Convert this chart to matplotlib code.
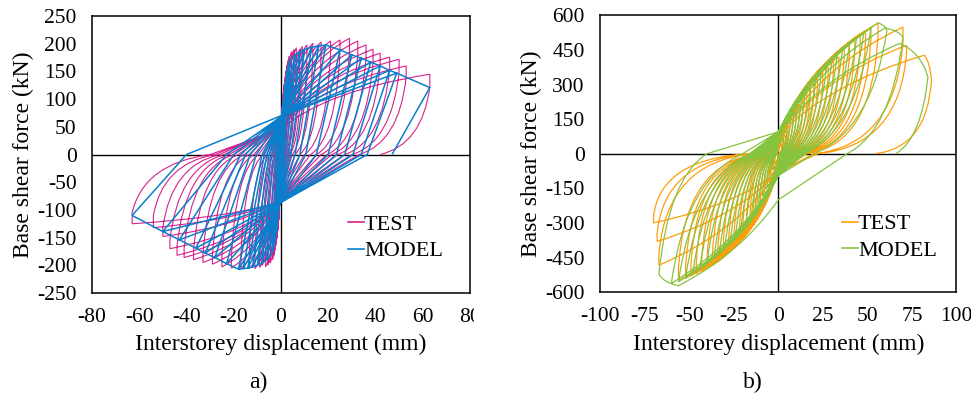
import matplotlib
matplotlib.use('Agg')
import matplotlib.pyplot as plt
from matplotlib.path import Path
from matplotlib.patches import PathPatch, Rectangle
from matplotlib.lines import Line2D

plt.rcParams['font.family'] = ['Liberation Serif', 'DejaVu Serif']
plt.rcParams['axes.unicode_minus'] = False

# every cycle = negative half then positive half
# dn/fn peak, dnd/fnd point after the peak, xa zero-force crossing on the way back,
# y0p force at zero displacement, same for the positive side (xb, y0n)

#%% panel a) TEST
a_test_y0n = [-20, -35, -40, -45, -48, -50, -52, -55, -58, -60, -62, -63, -65, -66, -68, -70, -72, -74, -75, -76, -78, -80, -80, -82, -84]
a_test_dn = [-1.0, -1.5, -2.0, -2.5, -3.0, -3.5, -4.5, -5.5, -6.5, -8.0, -9.0, -11.0, -13.5, -17.0, -21.0, -25.0, -29.0, -33.0, -37.0, -41.0, -44.0, -47.0, -50.0, -54.0, -63.0]
a_test_fn = [-110, -135, -155, -170, -182, -190, -196, -200, -203, -200, -204, -206, -206, -205, -205, -203, -198, -195, -190, -186, -182, -170, -148, -132, -125]
a_test_fnd = [-100, -123, -141, -155, -166, -174, -180, -184, -187, -184, -188, -190, -190, -189, -189, -187, -182, -179, -174, -170, -166, -155, -132, -110, -105]
a_test_xa = [-0.3, -0.45, -0.6, -0.8, -1.0, -1.2, -1.6, -2.0, -2.5, -3.2, -3.8, -4.8, -6.0, -7.5, -9.5, -11.5, -13.5, -15.5, -18.0, -20.0, -22.0, -24.0, -26.0, -28.0, -30.0]
a_test_y0p = [30, 35, 38, 40, 42, 44, 46, 48, 50, 50, 51, 52, 53, 54, 55, 55, 55, 54, 54, 53, 52, 51, 50, 48, 46]
a_test_dp = [1.0, 1.5, 2.0, 2.5, 3.0, 3.5, 4.5, 5.5, 6.5, 8.0, 9.0, 11.0, 13.5, 17.0, 21.0, 25.0, 29.0, 32.5, 36.0, 39.0, 42.0, 46.0, 50.0, 53.0, 63.0]
a_test_fp = [95, 120, 140, 155, 168, 178, 186, 190, 193, 190, 195, 198, 201, 203, 205, 207, 210, 205, 198, 190, 183, 176, 172, 160, 145]
a_test_fpd = [85, 108, 126, 140, 152, 162, 170, 172, 175, 172, 176, 178, 180, 182, 184, 186, 188, 183, 176, 168, 162, 155, 150, 140, 122]
a_test_xb = [0.3, 0.45, 0.6, 0.8, 1.0, 1.2, 1.6, 2.0, 2.5, 3.2, 3.8, 4.8, 6.0, 8.0, 10.0, 12.5, 15.0, 17.0, 19.5, 21.5, 24.0, 27.0, 30.0, 33.0, 42.0]

#%% panel a) MODEL
a_mod_y0n = [-20, -40, -55, -65, -70, -75, -78, -80, -82, -84, -85, -86, -86, -86, -86, -86, -86, -86]
a_mod_dn = [-1, -2, -3, -4, -6, -8, -10, -12, -14, -16, -18, -23, -28, -32, -36, -43, -50, -63]
a_mod_fn = [-100, -140, -165, -180, -190, -196, -200, -203, -205, -206, -207, -197, -186, -178, -169, -154, -139, -110]
a_mod_xa = [-0.2, -0.5, -0.9, -1.3, -2, -3, -4, -5, -6, -7, -8, -10.5, -13, -15, -17, -20, -23, -40]
a_mod_y0p = [40, 50, 55, 58, 60, 62, 63, 64, 65, 65, 66, 66, 67, 67, 68, 68, 68, 70]
a_mod_dp = [1, 2, 3, 4, 6, 8, 10, 13, 16, 19, 25, 30, 34, 38, 42, 46, 49, 63]
a_mod_fp = [90, 130, 160, 172, 180, 186, 190, 194, 196, 198, 189, 180, 174, 167, 160, 152, 147, 121]
a_mod_xb = [0.2, 0.5, 0.9, 1.3, 2.2, 3.2, 4.2, 6, 8, 10.5, 15, 20, 23.5, 27, 30.5, 34, 36.5, 47]

#%% panel b) TEST
b_test_y0n = [-10, -20, -25, -30, -35, -40, -45, -50, -55, -60, -62, -65, -68, -70, -72, -74, -76, -78, -80, -80, -80, -80, -80, -80, -80, -80, -80]
b_test_dn = [-2, -3, -4, -5, -6, -8, -10, -12, -14, -16, -18, -20, -22, -25, -28, -31, -34, -37, -40, -43, -46, -49, -52, -56, -67, -68, -70]
b_test_fn = [-45, -70, -95, -120, -145, -190, -225, -260, -290, -320, -345, -365, -385, -410, -430, -450, -470, -485, -500, -510, -520, -530, -540, -550, -483, -380, -300]
b_test_fnd = [-40, -62, -85, -108, -130, -172, -205, -238, -265, -292, -315, -335, -353, -375, -395, -412, -430, -445, -458, -468, -475, -485, -495, -500, -440, -345, -270]
b_test_xa = [-0.5, -0.7, -0.9, -1.1, -1.3, -1.6, -2, -2.4, -2.8, -3.2, -3.6, -4, -4.4, -5, -5.6, -6.2, -6.8, -7.4, -8, -8.6, -9.2, -9.8, -10.4, -11, -14, -15, -16]
b_test_y0p = [15, 20, 25, 30, 35, 40, 45, 50, 55, 60, 62, 65, 68, 70, 72, 74, 76, 78, 80, 80, 80, 80, 80, 80, 80, 80, 80]
b_test_dp = [2, 3, 4, 5, 6, 8, 10, 12, 14, 16, 18, 20, 22, 25, 28, 31, 34, 37, 40, 43, 46, 49, 52, 56, 70, 72, 82]
b_test_fp = [40, 60, 80, 100, 120, 155, 185, 215, 240, 265, 285, 305, 325, 350, 375, 400, 420, 460, 480, 500, 520, 535, 548, 567, 549, 470, 427]
b_test_dpd = [2, 3, 4, 5, 6, 8, 10, 12, 14, 16, 18, 20, 22, 25, 28, 31, 34, 37, 40, 43, 46, 49, 52, 56, 70, 72, 86]
b_test_fpd = [36, 54, 72, 90, 108, 140, 167, 195, 218, 240, 260, 277, 295, 318, 343, 365, 385, 422, 440, 460, 478, 493, 503, 517, 490, 440, 320]
b_test_xb = [0.5, 0.7, 0.9, 1.1, 1.3, 1.6, 2, 2.4, 2.8, 3.2, 3.6, 4, 4.6, 5.4, 6.2, 7, 8, 9, 10, 11, 12, 13, 14, 16, 20, 22, 54]

#%% panel b) MODEL
b_mod_y0n = [-20, -45, -55, -60, -65, -70, -75, -80, -82, -84, -86, -88, -90, -90, -92, -92, -94, -94, -95, -95, -200]
b_mod_dn = [-3, -5, -7, -9, -11, -13, -15, -18, -21, -24, -27, -30, -33, -36, -40, -44, -48, -52, -56, -60, -56]
b_mod_fn = [-70, -110, -150, -185, -215, -240, -265, -300, -330, -360, -385, -410, -430, -450, -475, -500, -520, -540, -555, -562, -572]
b_mod_dnd = [-3, -5, -7, -9, -11, -13, -15, -18, -21, -24, -27, -30, -33, -36, -40, -44, -48, -52, -56, -60, -67]
b_mod_fnd = [-70, -110, -150, -185, -215, -240, -265, -300, -330, -360, -385, -410, -430, -450, -475, -500, -520, -540, -555, -562, -522]
b_mod_xa = [-1, -1.5, -2, -2.5, -3, -3.5, -4, -5, -6, -7, -8, -9, -10, -11, -12, -13, -14, -15, -16, -20, -40]
b_mod_y0p = [40, 50, 60, 65, 70, 75, 80, 82, 84, 86, 88, 90, 90, 92, 92, 94, 94, 95, 95, 95, 95]
b_mod_dp = [3, 5, 7, 9, 11, 13, 15, 18, 21, 24, 27, 30, 33, 36, 40, 44, 48, 52, 56, 60, 68]
b_mod_fp = [70, 110, 150, 180, 210, 235, 260, 290, 320, 345, 375, 400, 425, 450, 480, 505, 525, 545, 567, 545, 478]
b_mod_dpd = [3, 5, 7, 9, 11, 13, 15, 18, 21, 24, 27, 30, 33, 36, 40, 44, 48, 52, 61, 70, 84]
b_mod_fpd = [70, 110, 150, 180, 210, 235, 260, 290, 320, 345, 375, 400, 425, 450, 480, 505, 525, 545, 535, 505, 333]
b_mod_xb = [1, 1.5, 2, 2.5, 3, 3.5, 4, 5, 6, 7, 8, 9, 10, 11, 12, 13, 14, 15, 20, 38.6, 66]

c_test_a = '#d6218c'
c_mod_a = '#0b7fcc'
c_test_b = '#ff9e0a'
c_mod_b = '#86c440'


def hyst_path(y0n, dn, fn, dnd, fnd, xa, y0p, dp, fp, dpd, fpd, xb,
              bow_load, bow_unload, envelope=False):
    verts = [(0.0, 0.0)]
    codes = [Path.MOVETO]

    def line(p):
        verts.append(p)
        codes.append(Path.LINETO)

    def curve(p, corner, bow):
        x0, y0 = verts[-1]
        mx, my = (x0 + p[0]) / 2, (y0 + p[1]) / 2
        c = (mx + bow * (corner[0] - mx), my + bow * (corner[1] - my))
        verts.extend([c, p])
        codes.extend([Path.CURVE3, Path.CURVE3])

    for i in range(len(dn)):
        line((0, y0n[i]))
        if envelope and i > 0:
            line((dnd[i - 1], fnd[i - 1]))
        curve((dn[i], fn[i]), (0, fn[i]), bow_load)
        curve((dnd[i], fnd[i]), (dnd[i], fn[i]), 0.5)
        curve((xa[i], 0), (dnd[i], 0), bow_unload)
        line((0, y0p[i]))
        if envelope and i > 0:
            line((dpd[i - 1], fpd[i - 1]))
        curve((dp[i], fp[i]), (0, fp[i]), bow_load)
        curve((dpd[i], fpd[i]), (dpd[i], fp[i]), 0.5)
        curve((xb[i], 0), (dpd[i], 0), bow_unload)
    return Path(verts, codes)


fig = plt.figure(figsize=(9.71, 4.03), dpi=100)
ax1 = fig.add_axes([0.0947, 0.273, 0.3893, 0.687])
ax2 = fig.add_axes([0.618, 0.275, 0.367, 0.687])

# a)
p_test = hyst_path(a_test_y0n, a_test_dn, a_test_fn, a_test_dn, a_test_fnd, a_test_xa, a_test_y0p,
                   a_test_dp, a_test_fp, a_test_dp, a_test_fpd, a_test_xb, 0.4, 0.7)
p_mod = hyst_path(a_mod_y0n, a_mod_dn, a_mod_fn, a_mod_dn, a_mod_fn, a_mod_xa, a_mod_y0p,
                  a_mod_dp, a_mod_fp, a_mod_dp, a_mod_fp, a_mod_xb, 0.0, 0.0, envelope=True)
ax1.add_patch(PathPatch(p_test, fill=False, edgecolor=c_test_a, lw=0.8, zorder=3))
ax1.add_patch(PathPatch(p_mod, fill=False, edgecolor=c_mod_a, lw=1.1, zorder=4))
ax1.set_xlim(-80, 80)
ax1.set_ylim(-250, 250)
ax1.set_xticks(range(-80, 81, 20))
ax1.set_yticks(range(-250, 251, 50))

# b)
p_test = hyst_path(b_test_y0n, b_test_dn, b_test_fn, b_test_dn, b_test_fnd, b_test_xa, b_test_y0p,
                   b_test_dp, b_test_fp, b_test_dpd, b_test_fpd, b_test_xb, 0.3, 0.85)
p_mod = hyst_path(b_mod_y0n, b_mod_dn, b_mod_fn, b_mod_dnd, b_mod_fnd, b_mod_xa, b_mod_y0p,
                  b_mod_dp, b_mod_fp, b_mod_dpd, b_mod_fpd, b_mod_xb, 0.25, 0.6)
ax2.add_patch(PathPatch(p_test, fill=False, edgecolor=c_test_b, lw=0.9, zorder=3))
ax2.add_patch(PathPatch(p_mod, fill=False, edgecolor=c_mod_b, lw=0.9, zorder=4))
ax2.set_xlim(-100, 100)
ax2.set_ylim(-600, 600)
ax2.set_xticks(range(-100, 101, 25))
ax2.set_yticks(range(-600, 601, 150))

for ax, ct, cm in [(ax1, c_test_a, c_mod_a), (ax2, c_test_b, c_mod_b)]:
    ax.axhline(0, color='black', lw=1.0, zorder=1)
    ax.axvline(0, color='black', lw=1.0, zorder=1)
    for s in ax.spines.values():
        s.set_linewidth(1.1)
        s.set_color('black')
    ax.tick_params(length=0, labelsize=15.5, pad=11)
    ax.set_xlabel('Interstorey displacement (mm)', fontsize=17, labelpad=5)
    ax.set_ylabel('Base shear force (kN)', fontsize=17, labelpad=2)
    handles = [Line2D([], [], color=ct, lw=1.2), Line2D([], [], color=cm, lw=1.2)]
    ax.legend(handles, ['TEST', 'MODEL'], loc='upper left', bbox_to_anchor=(0.655, 0.315),
              frameon=False, fontsize=16, handlelength=0.7, handletextpad=0.0,
              labelspacing=0.25, borderaxespad=0)

fig.text(0.266, 0.05, 'a)', fontsize=17, ha='center', va='center')
fig.text(0.775, 0.05, 'b)', fontsize=17, ha='center', va='center')
# right edge of the "80" label is cut off in the original
fig.patches.append(Rectangle((474 / 971, 0.18), 6 / 971, 0.08, transform=fig.transFigure,
                             facecolor='white', edgecolor='none', zorder=10))

fig.savefig('out.png', dpi=100)
